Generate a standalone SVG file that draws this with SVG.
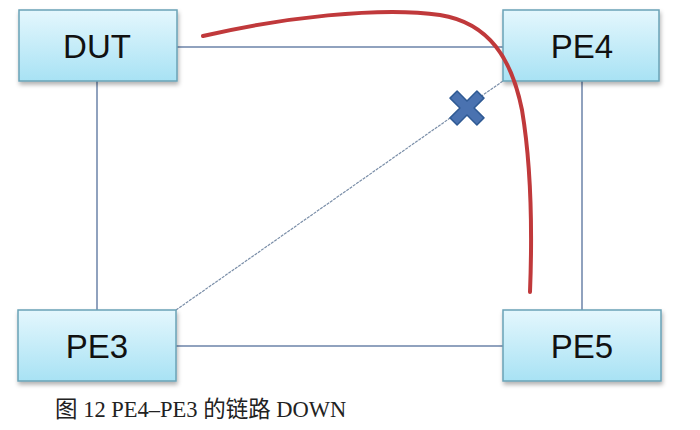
<svg xmlns="http://www.w3.org/2000/svg" width="700" height="430" viewBox="0 0 700 430">
<defs>
<linearGradient id="g" x1="0" y1="0" x2="0" y2="1">
<stop offset="0" stop-color="#e4f7fd"/>
<stop offset="1" stop-color="#a8e2f4"/>
</linearGradient>
<filter id="sh" x="-10%" y="-10%" width="120%" height="130%">
<feDropShadow dx="1" dy="3" stdDeviation="2" flood-color="#000" flood-opacity="0.3"/>
</filter>
</defs>
<style>
.box{fill:url(#g);stroke:#6aa3b6;stroke-width:1.5;filter:url(#sh)}
.lbl{font-family:"Liberation Sans",Arial,sans-serif;font-size:33px;fill:#111;text-anchor:middle}
.ln{stroke:#6b83a8;stroke-width:1.5;fill:none}
.cap{font-family:"Liberation Serif","Noto Sans CJK SC",serif;font-size:22.5px;fill:#222}
</style>
<rect width="700" height="430" fill="#fff"/>
<g id="connectors">
<line class="ln" x1="177" y1="47" x2="503" y2="47"/>
<line class="ln" x1="97" y1="81" x2="97" y2="310"/>
<line class="ln" x1="582" y1="81" x2="582" y2="310"/>
<line class="ln" x1="176" y1="346" x2="503" y2="346"/>
<line x1="176" y1="310" x2="503" y2="81" stroke="#7a8ea8" stroke-width="1.2" stroke-dasharray="3,1"/>
</g>
<g id="DUT"><rect class="box" x="19" y="10" width="158" height="71"/><text class="lbl" x="97" y="58">DUT</text></g>
<g id="PE4"><rect class="box" x="503" y="10" width="156" height="71"/><text class="lbl" x="582" y="58">PE4</text></g>
<g id="PE3"><rect class="box" x="18" y="310" width="158" height="71"/><text class="lbl" x="97" y="358">PE3</text></g>
<g id="PE5"><rect class="box" x="503" y="310" width="158" height="71"/><text class="lbl" x="582" y="358">PE5</text></g>
<g id="cross" transform="translate(467,108) rotate(45)">
<path d="M-5,-19 H5 V-5 H19 V5 H5 V19 H-5 V5 H-19 V-5 H-5 Z" fill="#4a72b0" stroke="#2f5a94" stroke-width="1.5" stroke-linejoin="round"/>
</g>
<path d="M203,36 C280,18 380,6 440,15 C490,23 512,60 522,110 C532,170 532,240 530,292" fill="none" stroke="#c0393b" stroke-width="4" stroke-linecap="round"/>
<text class="cap" x="55" y="417">图 12 PE4–PE3 的链路 DOWN</text>
</svg>
